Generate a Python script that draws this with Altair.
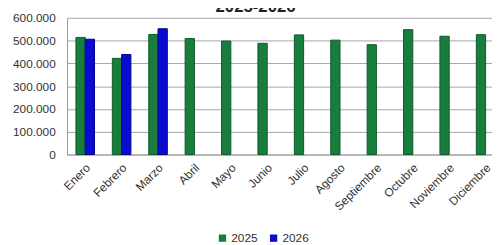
import altair as alt
import pandas as pd

months = ["Enero", "Febrero", "Marzo", "Abril", "Mayo", "Junio", "Julio",
          "Agosto", "Septiembre", "Octubre", "Noviembre", "Diciembre"]
v2025 = [514000, 422000, 527000, 509000, 498000, 488000, 525000, 502000,
         482000, 548000, 519000, 526000]
v2026 = [506000, 439000, 552000]
series = ["2025", "2026"]
y_ticks = [0, 100000, 200000, 300000, 400000, 500000, 600000]

rows = []
for m, v in zip(months, v2025):
    rows.append({"mes": m, "anio": "2025", "valor": v})
for m, v in zip(months, v2026):
    rows.append({"mes": m, "anio": "2026", "valor": v})
df = pd.DataFrame(rows)

FONT = "Liberation Sans"
TXT = "#333333"

chart = alt.Chart(df).mark_bar(strokeWidth=1).encode(
    x=alt.X("mes:N", sort=months,
            scale=alt.Scale(paddingInner=0.49, paddingOuter=0.245, range=[0, 444]),
            axis=alt.Axis(title=None, labelAngle=-45, labelAlign="right",
                          labelBaseline="middle", labelPadding=11, labelOffset=3,
                          ticks=False, domainColor="#9a9a9a", labelFont=FONT,
                          labelFontSize=12, labelColor=TXT)),
    xOffset=alt.XOffset("anio:N", scale=alt.Scale(domain=series, paddingInner=0, paddingOuter=0)),
    y=alt.Y("valor:Q", scale=alt.Scale(domain=[0, 600000], nice=False),
            axis=alt.Axis(title=None, values=y_ticks, ticks=False, labelPadding=12,
                          labelExpr="replace(format(datum.value, ','), ',', '.')",
                          gridColor="#a6a6a6", gridWidth=1, domainColor="#9a9a9a",
                          labelFont=FONT, labelFontSize=12, labelColor=TXT)),
    color=alt.Color("anio:N", scale=alt.Scale(domain=series, range=["#187d3d", "#0a0ad0"]),
                    legend=alt.Legend(title=None, orient="none", direction="horizontal",
                                      legendX=152, legendY=218, symbolType="square",
                                      symbolSize=55, labelFont=FONT, labelFontSize=12,
                                      labelColor=TXT, columnPadding=10, labelOffset=3,
                                      symbolStrokeWidth=0)),
    stroke=alt.Stroke("anio:N", scale=alt.Scale(domain=series, range=["#0c5a29", "#00008a"]),
                      legend=None),
).properties(
    width=432, height=139,
    title=alt.TitleParams("2025-2026", anchor="start", frame="group", dx=151, dy=17,
                          offset=0, baseline="alphabetic", font=FONT, fontSize=17,
                          fontWeight="bold", color="#222222"),
    autosize=alt.AutoSizeParams(type="none"),
    padding={"left": 60, "top": 8, "right": 0, "bottom": 90},
).configure_view(strokeWidth=0)

chart.save("out.html", embed_options={"renderer": "svg", "actions": False})
